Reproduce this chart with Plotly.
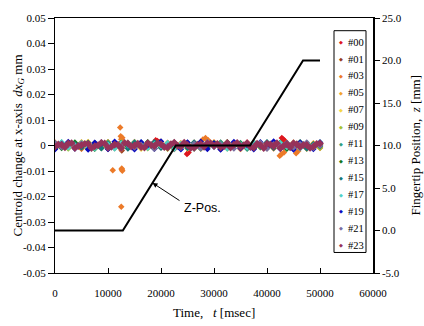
import plotly.graph_objects as go

# ---------------- data ----------------
t_ms = [0, 1250, 2500, 3750, 5000, 6250, 7500, 8750, 10000, 11250,
        12500, 13750, 15000, 16250, 17500, 18750, 20000, 21250, 22500, 23750,
        25000, 26250, 27500, 28750, 30000, 31250, 32500, 33750, 35000, 36250,
        37500, 38750, 40000, 41250, 42500, 43750, 45000, 46250, 47500, 48750, 50000]
t_mid = [625, 1875, 3125, 4375, 5625, 6875, 8125, 9375, 10625, 11875,
         13125, 14375, 15625, 16875, 18125, 19375, 20625, 21875, 23125, 24375,
         25625, 26875, 28125, 29375, 30625, 31875, 33125, 34375, 35625, 36875,
         38125, 39375, 40625, 41875, 43125, 44375, 45625, 46875, 48125, 49375]

series_names = ["#00", "#01", "#03", "#05", "#07", "#09", "#11",
                "#13", "#15", "#17", "#19", "#21", "#23"]
series_colors = ["rgb(222,22,30)", "rgb(150,60,30)", "rgb(236,122,40)", "rgb(242,165,45)",
                 "rgb(245,215,70)", "rgb(165,195,50)", "rgb(50,160,130)", "rgb(20,120,30)",
                 "rgb(20,120,120)", "rgb(80,210,200)", "rgb(10,10,190)", "rgb(120,110,160)",
                 "rgb(150,50,90)"]

d00 = [0.0006, -0.0004, 0.0009, -0.0011, 0.0003, 0.0012, -0.0007, 0.0001, -0.0013, 0.0008,
       0.0005, -0.0002, 0.0010, -0.0009, 0.0004, 0.0013, -0.0006, 0.0002, -0.0012, 0.0007,
       -0.0003, 0.0011, -0.0008, 0.0000, 0.0009, -0.0014, 0.0005, 0.0003, -0.0005, 0.0012,
       -0.0010, 0.0006, -0.0001, 0.0010, -0.0007, 0.0004, -0.0012, 0.0008, 0.0002, -0.0006, 0.0011]
d01 = [-0.0008, 0.0005, 0.0011, -0.0003, -0.0012, 0.0007, 0.0002, -0.0009, 0.0013, -0.0005,
       0.0001, 0.0009, -0.0011, 0.0004, -0.0002, 0.0012, -0.0007, 0.0006, -0.0014, 0.0003,
       0.0010, -0.0004, 0.0008, -0.0010, 0.0002, 0.0011, -0.0006, 0.0005, -0.0013, 0.0009,
       -0.0001, 0.0007, -0.0008, 0.0012, -0.0003, 0.0004, -0.0011, 0.0010, 0.0000, -0.0007, 0.0006]
d03 = [0.0012, -0.0006, 0.0003, 0.0008, -0.0013, 0.0001, 0.0010, -0.0004, 0.0006, -0.0011,
       0.0005, -0.0008, 0.0014, -0.0002, 0.0009, -0.0012, 0.0004, 0.0011, -0.0007, 0.0002,
       -0.0010, 0.0007, 0.0000, -0.0005, 0.0013, -0.0009, 0.0003, 0.0008, -0.0014, 0.0006,
       0.0010, -0.0003, 0.0005, -0.0012, 0.0009, 0.0001, -0.0008, 0.0012, -0.0004, 0.0007, -0.0010]
d05 = [0.0003, 0.0010, -0.0007, -0.0001, 0.0013, -0.0010, 0.0006, 0.0004, -0.0012, 0.0008,
       -0.0005, 0.0011, 0.0002, -0.0009, 0.0007, -0.0003, 0.0015, -0.0011, 0.0001, 0.0009,
       -0.0006, 0.0004, -0.0013, 0.0012, 0.0003, -0.0008, 0.0010, -0.0002, 0.0006, -0.0011,
       0.0013, -0.0005, 0.0002, 0.0008, -0.0010, 0.0011, -0.0004, 0.0005, -0.0013, 0.0009, 0.0001]
d07 = [-0.0011, 0.0004, 0.0008, -0.0006, 0.0001, 0.0014, -0.0003, -0.0010, 0.0007, 0.0002,
       0.0012, -0.0008, 0.0005, -0.0013, 0.0010, 0.0000, -0.0005, 0.0009, -0.0002, 0.0006,
       -0.0012, 0.0011, 0.0003, -0.0007, 0.0008, -0.0009, 0.0013, 0.0001, -0.0004, 0.0010,
       -0.0008, 0.0005, -0.0011, 0.0007, 0.0003, -0.0006, 0.0012, -0.0002, 0.0009, -0.0010, 0.0004]
d09 = [0.0009, -0.0002, -0.0012, 0.0006, 0.0011, -0.0005, 0.0003, -0.0009, 0.0013, 0.0000,
       -0.0007, 0.0010, -0.0003, 0.0005, -0.0011, 0.0008, 0.0002, -0.0013, 0.0012, -0.0006,
       0.0004, -0.0001, 0.0011, -0.0009, 0.0007, 0.0001, -0.0012, 0.0009, -0.0004, 0.0003,
       0.0012, -0.0008, 0.0006, -0.0002, 0.0010, -0.0011, 0.0004, 0.0008, -0.0006, 0.0001, -0.0009]
d11 = [-0.0004, 0.0012, 0.0001, -0.0009, 0.0006, -0.0013, 0.0010, 0.0003, -0.0006, 0.0008,
       -0.0011, 0.0002, 0.0013, -0.0004, 0.0007, -0.0010, 0.0005, -0.0001, 0.0011, -0.0008,
       0.0003, 0.0009, -0.0012, 0.0006, -0.0003, 0.0012, -0.0007, 0.0002, 0.0010, -0.0013,
       0.0005, -0.0006, 0.0011, 0.0000, -0.0010, 0.0008, -0.0002, 0.0013, -0.0009, 0.0004, 0.0007]
d13 = [0.0007, -0.0010, 0.0004, 0.0012, -0.0005, 0.0002, -0.0013, 0.0009, 0.0001, -0.0007,
       0.0011, -0.0003, -0.0009, 0.0006, 0.0013, -0.0011, 0.0003, 0.0008, -0.0006, 0.0000,
       0.0010, -0.0012, 0.0005, -0.0002, 0.0009, -0.0008, 0.0012, -0.0004, 0.0007, 0.0002,
       -0.0011, 0.0010, -0.0005, 0.0004, 0.0011, -0.0013, 0.0006, -0.0001, 0.0009, -0.0007, 0.0003]
d15 = [-0.0013, 0.0008, -0.0001, 0.0005, -0.0008, 0.0011, 0.0004, -0.0011, 0.0009, -0.0003,
       0.0006, -0.0012, 0.0010, 0.0002, -0.0006, 0.0013, -0.0009, 0.0004, 0.0007, -0.0002,
       -0.0010, 0.0012, 0.0000, -0.0005, 0.0008, -0.0013, 0.0011, 0.0003, -0.0007, 0.0009,
       0.0001, -0.0004, 0.0013, -0.0010, 0.0006, 0.0002, -0.0008, 0.0011, -0.0012, 0.0005, -0.0003]
d17 = [0.0002, 0.0013, -0.0008, 0.0000, 0.0010, -0.0004, -0.0011, 0.0007, 0.0004, -0.0012,
       0.0009, 0.0001, -0.0006, 0.0012, -0.0009, 0.0005, -0.0002, 0.0010, -0.0013, 0.0006,
       0.0003, -0.0010, 0.0008, 0.0011, -0.0005, 0.0002, -0.0012, 0.0009, 0.0004, -0.0007,
       0.0012, -0.0001, -0.0009, 0.0006, 0.0010, -0.0006, 0.0003, -0.0011, 0.0008, 0.0000, 0.0013]
d19 = [-0.0015, 0.0006, 0.0014, -0.0012, 0.0003, -0.0016, 0.0011, 0.0007, -0.0014, 0.0015,
       -0.0009, 0.0004, -0.0015, 0.0013, 0.0001, -0.0013, 0.0016, -0.0006, 0.0010, -0.0015,
       0.0012, -0.0004, 0.0015, -0.0014, 0.0008, -0.0016, 0.0005, 0.0014, -0.0011, 0.0002,
       -0.0015, 0.0013, -0.0007, 0.0016, -0.0013, 0.0009, -0.0016, 0.0011, 0.0003, -0.0014, 0.0012]
d21 = [0.0010, -0.0007, 0.0002, -0.0012, 0.0008, 0.0005, -0.0003, 0.0013, -0.0010, 0.0001,
       -0.0005, 0.0011, -0.0008, 0.0003, 0.0009, -0.0013, 0.0006, -0.0001, 0.0012, -0.0009,
       0.0000, 0.0007, -0.0011, 0.0013, -0.0006, 0.0004, 0.0010, -0.0012, 0.0002, 0.0008,
       -0.0004, 0.0011, -0.0013, 0.0005, -0.0002, 0.0009, -0.0008, 0.0006, 0.0012, -0.0010, -0.0001]
d23 = [-0.0005, 0.0003, 0.0008, -0.0009, 0.0001, 0.0006, -0.0003, 0.0010, -0.0007, 0.0004,
       -0.0010, 0.0007, 0.0000, -0.0006, 0.0009, -0.0002, 0.0005, -0.0008, 0.0011, -0.0004,
       0.0002, -0.0009, 0.0006, 0.0008, -0.0001, -0.0007, 0.0010, 0.0003, -0.0005, 0.0009,
       -0.0008, 0.0001, 0.0007, -0.0003, -0.0010, 0.0005, 0.0009, -0.0006, 0.0002, -0.0004, 0.0008]
series_values = [d00, d01, d03, d05, d07, d09, d11, d13, d15, d17, d19, d21, d23]

# #23 is sampled more densely in the picture (it forms the solid core of the band)
d23_mid = [0.0004, -0.0007, 0.0009, -0.0002, 0.0006, -0.0010, 0.0001, 0.0008, -0.0005, 0.0003,
           0.0010, -0.0004, 0.0007, -0.0008, 0.0002, 0.0009, -0.0006, 0.0005, -0.0001, 0.0011,
           -0.0009, 0.0003, -0.0005, 0.0008, 0.0006, -0.0003, -0.0008, 0.0010, 0.0001, -0.0006,
           0.0007, -0.0010, 0.0004, 0.0009, -0.0002, -0.0007, 0.0005, 0.0002, -0.0009, 0.0006]

# isolated excursions
extra_t = {
    "#00": [19000, 19300, 19600, 24900, 25200, 42800, 43100, 43400],
    "#01": [12600],
    "#03": [10900, 12300, 12400, 12500, 12600, 12700, 12500, 12600, 12700, 12500,
            27900, 28400, 28900, 42400, 42700, 43200, 45500, 45900],
    "#23": t_mid,
}
extra_v = {
    "#00": [0.0021, 0.0018, 0.0014, -0.0033, -0.0027, 0.0029, 0.0024, 0.0018],
    "#01": [-0.0020],
    "#03": [-0.0097, 0.0071, 0.0036, 0.0025, -0.0094, -0.0099, -0.0240, -0.0090, 0.0030, -0.0015,
            0.0024, 0.0029, 0.0021, -0.0040, -0.0034, -0.0027, -0.0030, -0.0022],
    "#23": d23_mid,
}

zpos_t = [0, 12800, 22800, 36800, 46800, 50000]
zpos_z = [0, 0, 10, 10, 20, 20]

y_ticks = [0.05, 0.04, 0.03, 0.02, 0.01, 0, -0.01, -0.02, -0.03, -0.04, -0.05]
y_ticktext = ["0.05", "0.04", "0.03", "0.02", "0.01", "0", "-0.01", "-0.02", "-0.03", "-0.04", "-0.05"]
x_ticks = [0, 10000, 20000, 30000, 40000, 50000, 60000]
x_ticktext = ["0", "10000", "20000", "30000", "40000", "50000", "60000"]
y2_ticks = [25, 20, 15, 10, 5, 0, -5]
y2_ticktext = ["25.0", "20.0", "15.0", "10.0", "5.0", "0.0", "-5.0"]

# ---------------- figure ----------------
SERIF = "Liberation Serif"
SANS = "Liberation Sans"
TICKFONT = dict(family=SERIF, size=11, color="black")

fig = go.Figure()
for name, color, vals in zip(series_names, series_colors, series_values):
    xs = list(t_ms) + extra_t.get(name, [])
    ys = list(vals) + extra_v.get(name, [])
    fig.add_trace(go.Scatter(x=xs, y=ys, mode="markers", name=name, showlegend=False,
                             marker=dict(symbol="diamond", size=6 if name == "#23" else 5,
                                         color=color, line=dict(width=0))))

fig.add_trace(go.Scatter(x=zpos_t, y=zpos_z, mode="lines", yaxis="y2", showlegend=False,
                         line=dict(color="black", width=2)))

L, R, T, B = 55, 373, 12, 273
W, H = 424, 326
pw, ph = R - L, B - T

def px(xp):
    return (xp - L) / pw

def py(yp):
    return (B - yp) / ph

fig.update_layout(
    width=W, height=H,
    margin=dict(l=L, r=W - R, t=T, b=H - B, pad=0),
    paper_bgcolor="white", plot_bgcolor="white",
    font=dict(family=SERIF, size=11, color="black"),
    xaxis=dict(range=[0, 60000], tickvals=x_ticks, ticktext=x_ticktext, tickfont=TICKFONT,
               ticks="inside", ticklen=5, tickcolor="black", ticklabelstandoff=10,
               showline=True, linecolor="black", linewidth=1, mirror=True,
               showgrid=False, zeroline=False),
    yaxis=dict(range=[-0.05, 0.05], tickvals=y_ticks, ticktext=y_ticktext, tickfont=TICKFONT,
               ticks="outside", ticklen=6, tickcolor="black",
               showline=True, linecolor="black", linewidth=1,
               showgrid=False, zeroline=False),
    yaxis2=dict(range=[-5, 25], tickvals=y2_ticks, ticktext=y2_ticktext, tickfont=TICKFONT,
                overlaying="y", side="right",
                ticks="outside", ticklen=5, tickcolor="black",
                showline=True, linecolor="black", linewidth=1.5,
                showgrid=False, zeroline=False),
    showlegend=False,
)

annotations = [
    dict(text="Time,   <i>t</i> [msec]", xref="paper", yref="paper",
         x=0.5, y=py(313), xanchor="center", yanchor="middle", showarrow=False,
         font=dict(family=SERIF, size=13)),
    dict(text="Centroid change at x-axis  <i>dx<sub>G</sub></i> mm", xref="paper", yref="paper",
         x=px(18), y=0.5, xanchor="center", yanchor="middle", textangle=-90, showarrow=False,
         font=dict(family=SERIF, size=13)),
    dict(text="Fingertip Position,  <i>z</i> [mm]", xref="paper", yref="paper",
         x=px(415), y=0.5, xanchor="center", yanchor="middle", textangle=-90, showarrow=False,
         font=dict(family=SERIF, size=13)),
    dict(text="Z-Pos.", xref="paper", yref="paper", x=px(182), y=py(206),
         xanchor="left", yanchor="middle", showarrow=False, font=dict(family=SANS, size=12.5)),
    dict(text=" ", x=18400, y=5.6, xref="x", yref="y2", showarrow=True,
         ax=29, ay=19, arrowhead=2, arrowsize=1, arrowwidth=1, arrowcolor="black",
         standoff=0, font=dict(size=4)),
]

# legend drawn as a narrow boxed list like the original
fig.add_shape(type="rect", xref="paper", yref="paper",
              x0=px(334), x1=px(366), y0=py(252), y1=py(25),
              line=dict(color="black", width=1), fillcolor="white", layer="above")
for i, (name, color) in enumerate(zip(series_names, series_colors)):
    yc = 36.7 + 17.33 * i
    annotations.append(dict(text="◆", xref="paper", yref="paper", x=px(340.5), y=py(yc),
                            xanchor="center", yanchor="middle", showarrow=False,
                            font=dict(family="DejaVu Sans", size=5, color=color)))
    annotations.append(dict(text=name, xref="paper", yref="paper", x=px(346), y=py(yc),
                            xanchor="left", yanchor="middle", showarrow=False,
                            font=dict(family=SERIF, size=10.5)))

fig.update_layout(annotations=annotations)
fig.write_html("out.html")
